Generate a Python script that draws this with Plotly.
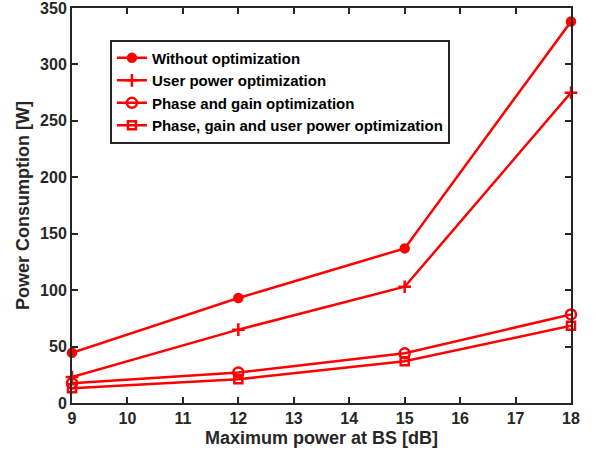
import plotly.graph_objects as go

x_vals = [9, 12, 15, 18]
without_opt = [44.5, 93, 137, 338]
user_power_opt = [23, 65, 103, 275]
phase_gain_opt = [17.5, 27, 44, 78.5]
phase_gain_user_opt = [13, 21, 37, 68.5]

names = ["Without optimization", "User power optimization",
         "Phase and gain optimization", "Phase, gain and user power optimization"]
series = [without_opt, user_power_opt, phase_gain_opt, phase_gain_user_opt]
symbols = ["circle", "cross-thin", "circle-open", "square-open"]
sizes = [8, 9, 10, 8]

fig = go.Figure()
for n, s, sym, sz in zip(names, series, symbols, sizes):
    fig.add_trace(go.Scatter(
        x=x_vals, y=s, name=n, mode="lines+markers", cliponaxis=False,
        line=dict(color="#ff0000", width=2.5),
        marker=dict(symbol=sym, size=sz, color="#ff0000",
                    line=dict(color="#ff0000", width=2.5)),
    ))

axis_common = dict(
    showgrid=False, zeroline=False, showline=True, linecolor="#262626",
    linewidth=2, mirror="ticks", ticks="inside", ticklen=6, tickwidth=2,
    tickcolor="#262626", tickfont=dict(size=16, color="#262626"),
    automargin=False, ticklabeloverflow="allow",
)
fig.update_layout(
    width=596, height=456,
    margin=dict(l=72, r=25, t=8, b=53, autoexpand=False),
    paper_bgcolor="white", plot_bgcolor="white",
    font=dict(family="Liberation Sans, Arial, sans-serif", weight="bold", color="#262626"),
    xaxis=dict(range=[9, 18], tickvals=list(range(9, 19)),
               title=dict(text="Maximum power at BS [dB]", font=dict(size=18), standoff=5),
               **axis_common),
    yaxis=dict(range=[0, 350], tickvals=list(range(0, 351, 50)),
               title=dict(text="Power Consumption [W]", font=dict(size=18), standoff=6),
               **axis_common),
    legend=dict(x=0.076, y=0.92, xanchor="left", yanchor="top",
                bgcolor="white", bordercolor="#262626", borderwidth=2,
                font=dict(size=15, color="black"), tracegroupgap=0,
                itemwidth=30),
    showlegend=True,
)
fig.write_html("out.html", config={"displayModeBar": False},
               post_script="document.body.style.margin='0';document.body.style.padding='0';")
